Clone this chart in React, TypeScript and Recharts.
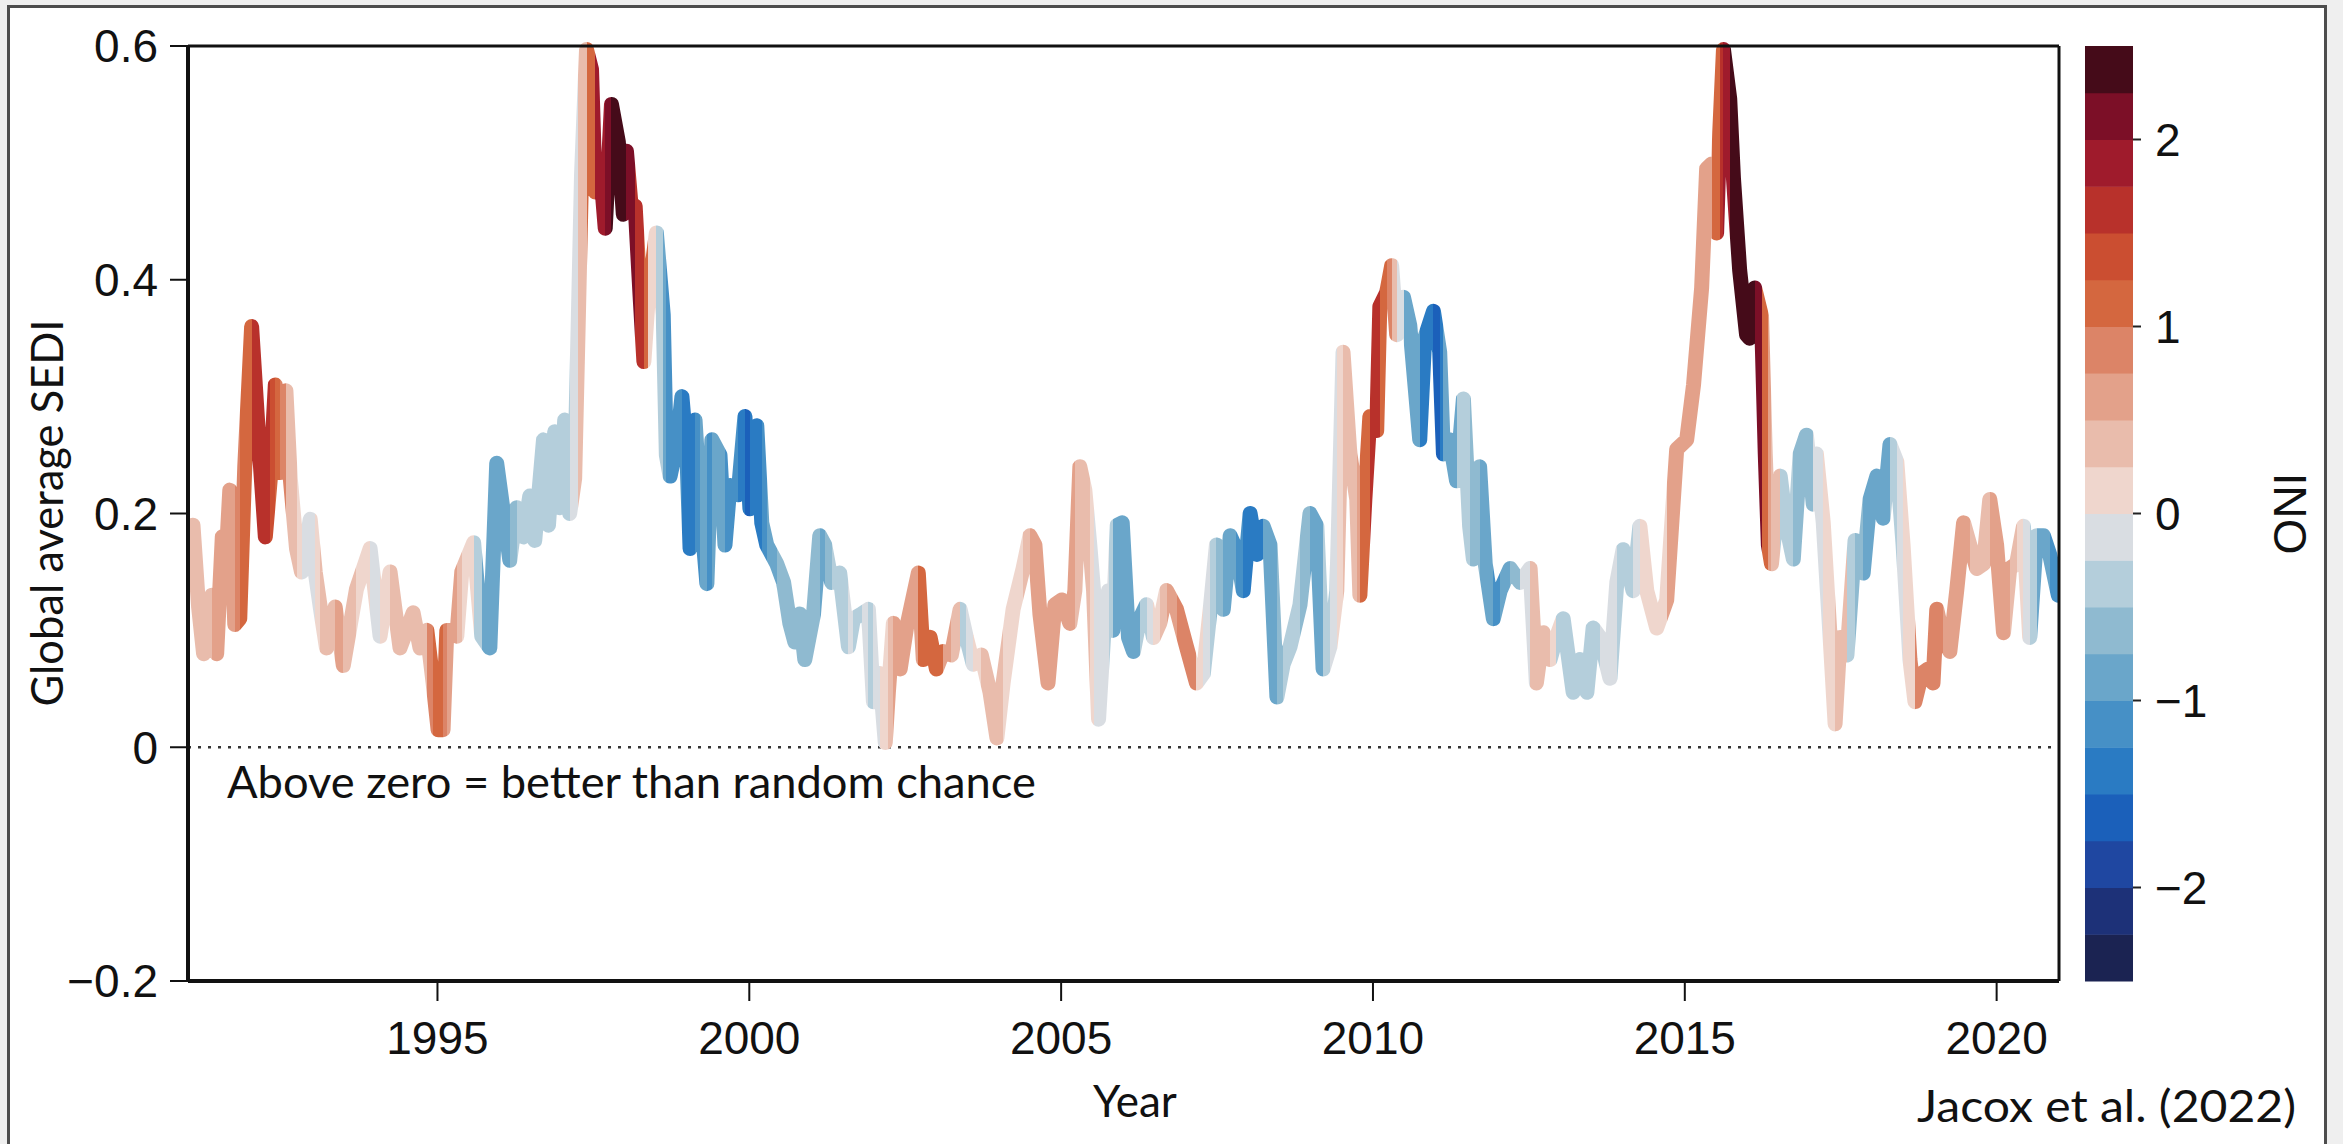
import React from 'react';
import { LineChart, Line, XAxis, YAxis, ReferenceLine } from 'recharts';

// Global average SEDI (decimal year, SEDI, ONI colour)
const years = [
  1991.08, 1991.17, 1991.25, 1991.38, 1991.46, 1991.55, 1991.61, 1991.67, 1991.75, 1991.83, 1991.91,
  1992.02, 1992.15, 1992.24, 1992.32, 1992.4, 1992.48, 1992.57, 1992.64, 1992.74, 1992.82, 1992.96,
  1993.04, 1993.12, 1993.22, 1993.36, 1993.49, 1993.7, 1993.92, 1994.08, 1994.24, 1994.4, 1994.61,
  1994.72, 1994.83, 1994.93, 1995.01, 1995.09, 1995.15, 1995.23, 1995.31, 1995.39, 1995.58, 1995.71,
  1995.84, 1995.95, 1996.16, 1996.27, 1996.38, 1996.48, 1996.56, 1996.7, 1996.78, 1996.88, 1996.96,
  1997.04, 1997.12, 1997.2, 1997.26, 1997.31, 1997.39, 1997.47, 1997.53, 1997.63, 1997.69, 1997.79,
  1997.9, 1997.98, 1998.03, 1998.11, 1998.17, 1998.25, 1998.31, 1998.38, 1998.51, 1998.62, 1998.67,
  1998.73, 1998.84, 1998.92, 1999.0, 1999.05, 1999.13, 1999.21, 1999.32, 1999.4, 1999.53, 1999.61,
  1999.69, 1999.82, 1999.93, 2000.01, 2000.12, 2000.2, 2000.28, 2000.44, 2000.55, 2000.65, 2000.73,
  2000.81, 2000.89, 2001.03, 2001.13, 2001.21, 2001.32, 2001.45, 2001.59, 2001.67, 2001.8, 2001.91,
  2001.99, 2002.09, 2002.18, 2002.23, 2002.31, 2002.42, 2002.52, 2002.71, 2002.79, 2002.9, 2003.0,
  2003.11, 2003.24, 2003.38, 2003.48, 2003.59, 2003.72, 2003.86, 2003.97, 2004.07, 2004.23, 2004.39,
  2004.5, 2004.58, 2004.66, 2004.79, 2004.9, 2005.01, 2005.14, 2005.22, 2005.3, 2005.38, 2005.46,
  2005.52, 2005.6, 2005.68, 2005.76, 2005.83, 2005.9, 2005.98, 2006.08, 2006.16, 2006.26, 2006.37,
  2006.48, 2006.58, 2006.69, 2006.85, 2007.01, 2007.17, 2007.28, 2007.39, 2007.49, 2007.6, 2007.71,
  2007.81, 2007.92, 2008.03, 2008.14, 2008.24, 2008.35, 2008.46, 2008.56, 2008.67, 2008.83, 2008.99,
  2009.1, 2009.2, 2009.31, 2009.42, 2009.52, 2009.63, 2009.74, 2009.79, 2009.87, 2009.95, 2010.06,
  2010.11, 2010.22, 2010.3, 2010.38, 2010.49, 2010.59, 2010.75, 2010.83, 2010.97, 2011.07, 2011.13,
  2011.23, 2011.34, 2011.45, 2011.55, 2011.61, 2011.71, 2011.8, 2011.93, 2012.04, 2012.2, 2012.36,
  2012.52, 2012.62, 2012.73, 2012.84, 2012.94, 2013.05, 2013.21, 2013.32, 2013.43, 2013.53, 2013.64,
  2013.8, 2013.91, 2014.01, 2014.17, 2014.28, 2014.39, 2014.55, 2014.71, 2014.87, 2015.03, 2015.14,
  2015.27, 2015.35, 2015.43, 2015.51, 2015.56, 2015.62, 2015.72, 2015.78, 2015.88, 2015.99, 2016.04,
  2016.12, 2016.23, 2016.29, 2016.34, 2016.39, 2016.53, 2016.63, 2016.74, 2016.85, 2016.95, 2017.06,
  2017.11, 2017.22, 2017.33, 2017.41, 2017.49, 2017.6, 2017.73, 2017.86, 2017.97, 2018.08, 2018.18,
  2018.29, 2018.4, 2018.5, 2018.61, 2018.69, 2018.8, 2018.9, 2018.98, 2019.04, 2019.14, 2019.25,
  2019.36, 2019.47, 2019.57, 2019.68, 2019.79, 2019.89, 2020.0, 2020.11, 2020.21, 2020.32, 2020.43,
  2020.53, 2020.64, 2020.75, 2020.85, 2020.99,
];

const sedi = [
  0.19, 0.12, 0.08, 0.13, 0.08, 0.18, 0.16, 0.22, 0.105, 0.11, 0.24,
  0.36, 0.25, 0.18, 0.23, 0.31, 0.235, 0.305, 0.23, 0.17, 0.15, 0.195,
  0.15, 0.12, 0.085, 0.12, 0.07, 0.135, 0.17, 0.095, 0.15, 0.085, 0.115,
  0.085, 0.1, 0.055, 0.015, 0.015, 0.1, 0.1, 0.095, 0.15, 0.175, 0.095,
  0.085, 0.243, 0.16, 0.205, 0.18, 0.215, 0.177, 0.263, 0.19, 0.27, 0.205,
  0.28, 0.2, 0.23, 0.37, 0.49, 0.597, 0.58, 0.475, 0.483, 0.444, 0.55,
  0.518, 0.456, 0.51, 0.46, 0.463, 0.385, 0.33, 0.385, 0.44, 0.37, 0.25,
  0.232, 0.26, 0.3, 0.25, 0.17, 0.28, 0.21, 0.14, 0.263, 0.25, 0.173,
  0.224, 0.216, 0.283, 0.204, 0.275, 0.192, 0.173, 0.157, 0.141, 0.106, 0.09,
  0.114, 0.075, 0.114, 0.181, 0.173, 0.141, 0.149, 0.086, 0.11, 0.114, 0.118,
  0.039, 0.063, 0.004, 0.047, 0.106, 0.067, 0.102, 0.149, 0.075, 0.094, 0.067,
  0.082, 0.079, 0.118, 0.094, 0.071, 0.079, 0.047, 0.008, 0.055, 0.118, 0.153,
  0.181, 0.173, 0.114, 0.055, 0.122, 0.126, 0.106, 0.134, 0.24, 0.22, 0.173,
  0.134, 0.024, 0.094, 0.134, 0.1, 0.19, 0.192, 0.094, 0.082, 0.11, 0.122,
  0.094, 0.106, 0.134, 0.118, 0.086, 0.055, 0.063, 0.118, 0.173, 0.118, 0.181,
  0.169, 0.134, 0.2, 0.165, 0.189, 0.173, 0.043, 0.071, 0.086, 0.122, 0.2,
  0.189, 0.067, 0.086, 0.134, 0.338, 0.251, 0.212, 0.13, 0.212, 0.283, 0.271,
  0.377, 0.389, 0.412, 0.353, 0.385, 0.361, 0.263, 0.35, 0.373, 0.338, 0.251,
  0.263, 0.228, 0.298, 0.189, 0.161, 0.24, 0.157, 0.11, 0.134, 0.153, 0.141,
  0.153, 0.055, 0.098, 0.075, 0.094, 0.11, 0.047, 0.075, 0.047, 0.102, 0.094,
  0.059, 0.141, 0.169, 0.134, 0.189, 0.134, 0.102, 0.126, 0.255, 0.263, 0.31,
  0.393, 0.495, 0.499, 0.44, 0.526, 0.597, 0.555, 0.487, 0.408, 0.353, 0.35,
  0.393, 0.369, 0.251, 0.173, 0.157, 0.232, 0.189, 0.161, 0.251, 0.267, 0.208,
  0.251, 0.192, 0.094, 0.02, 0.094, 0.079, 0.177, 0.149, 0.212, 0.232, 0.196,
  0.259, 0.244, 0.173, 0.075, 0.039, 0.063, 0.067, 0.055, 0.118, 0.094, 0.082,
  0.134, 0.192, 0.173, 0.153, 0.157, 0.212, 0.173, 0.098, 0.153, 0.157, 0.189,
  0.094, 0.181, 0.181, 0.165, 0.13,
];

const oni = [
  0.4, 0.4, 0.4, 0.5, 0.5, 0.6, 0.6, 0.6, 0.9, 1.0, 1.1,
  1.6, 1.6, 1.5, 1.3, 1.0, 0.9, 0.4, 0.3, 0.0, -0.2, -0.2,
  0.1, 0.4, 0.4, 0.5, 0.4, 0.1, -0.1, 0.1, 0.3, 0.4, 0.4,
  0.4, 0.9, 1.0, 1.0, 0.9, 0.6, 0.5, 0.4, 0.1, -0.4, -0.8,
  -0.8, -0.8, -0.7, -0.5, -0.5, -0.4, -0.4, -0.4, -0.4, -0.3, -0.3,
  -0.3, -0.2, -0.1, 0.3, 0.4, 1.0, 1.1, 1.8, 1.9, 2.2, 2.4,
  2.4, 2.3, 2.2, 2.0, 1.7, 1.6, 1.1, 0.2, -0.3, -0.9, -1.1,
  -1.1, -1.2, -1.5, -1.4, -1.3, -1.2, -1.0, -1.1, -1.0, -1.0, -1.2,
  -1.2, -1.3, -1.6, -1.5, -1.4, -1.2, -0.8, -0.7, -0.6, -0.6, -0.6,
  -0.7, -0.7, -0.7, -0.9, -0.7, -0.3, -0.3, -0.2, -0.3, -0.2, -0.4,
  -0.1, 0.1, 0.2, 0.3, 0.5, 0.6, 0.7, 1.0, 1.1, 1.1, 1.0,
  0.7, 0.3, -0.3, -0.2, 0.1, 0.3, 0.4, 0.3, 0.2, 0.1, 0.3,
  0.6, 0.6, 0.6, 0.6, 0.6, 0.6, 0.5, 0.4, 0.4, 0.3, 0.1,
  -0.1, -0.1, -0.2, -0.3, -0.8, -0.9, -0.9, -0.8, -0.8, -0.5, -0.1,
  0.2, 0.3, 0.6, 0.9, 0.9, 0.1, -0.2, -0.4, -0.6, -0.8, -0.9,
  -1.1, -1.4, -1.5, -1.3, -1.0, -0.8, -0.7, -0.5, -0.3, -0.6, -0.9,
  -0.8, -0.4, -0.2, 0.1, 0.4, 0.4, 0.6, 1.0, 1.1, 1.5, 1.5,
  1.1, 0.8, 0.4, -0.1, -0.8, -1.0, -1.4, -1.5, -1.6, -1.3, -1.0,
  -0.9, -0.5, -0.4, -0.6, -0.7, -0.9, -1.0, -1.1, -0.8, -0.6, -0.1,
  0.3, 0.4, 0.4, 0.2, -0.3, -0.4, -0.4, -0.4, -0.4, -0.4, -0.2,
  -0.1, -0.3, -0.4, -0.2, 0.1, 0.1, 0.2, 0.5, 0.6, 0.6, 0.6,
  0.7, 0.7, 1.1, 1.2, 1.5, 1.8, 2.3, 2.4, 2.4, 2.4, 2.3,
  2.0, 1.2, 1.0, 0.6, 0.4, -0.4, -0.5, -0.7, -0.7, -0.7, -0.2,
  -0.1, 0.1, 0.2, 0.4, 0.3, -0.3, -0.6, -0.9, -1.0, -0.9, -0.8,
  -0.4, -0.2, 0.1, 0.2, 0.9, 0.9, 0.9, 0.9, 0.9, 0.7, 0.6,
  0.6, 0.5, 0.4, 0.3, 0.3, 0.6, 0.6, 0.5, 0.4, 0.1, -0.2,
  -0.4, -0.8, -1.0, -1.1, -1.1,
];

const yearTicks = [1995, 2000, 2005, 2010, 2015, 2020];
const sediTicks = [-0.2, 0, 0.2, 0.4, 0.6];
const oniTicks = [2, 1, 0, -1, -2];

// colour bins of the ONI scale, from -2.5 upwards in steps of 0.25
const oniBreaks = [
  -2.5, -2.25, -2, -1.75, -1.5, -1.25, -1, -0.75, -0.5, -0.25, 0,
  0.25, 0.5, 0.75, 1, 1.25, 1.5, 1.75, 2, 2.25, 2.5,
];
const oniColors = [
  '#1b2352', '#1d3178', '#1f47a1', '#1b60ba', '#2a7bc3', '#4690c6', '#6aa6ca', '#8fbad0', '#b4cedb', '#d9dde2',
  '#efd6cd', '#e9bcac', '#e3a18a', '#dc8467', '#d4673f', '#cb4e31', '#b8312b', '#9f1b2c', '#7c0f27', '#450b19',
];

const W = 2343;
const H = 1144;
const PLOT = { left: 188, right: 2059, top: 46, bottom: 981 };

const tickFont = '"Liberation Sans", Arial, Helvetica, sans-serif';
const textFont = 'Lato, "Open Sans", sans-serif';

const oniColor = (v: number) => {
  let i = Math.floor((v - oniBreaks[0]) / 0.25);
  if (i < 0) i = 0;
  if (i > oniColors.length - 1) i = oniColors.length - 1;
  return oniColors[i];
};

const data = years.map((year, i) => ({ year, sedi: sedi[i], oni: oni[i] }));

// each segment takes the colour of the point it starts from
const first = years[0];
const span = years[years.length - 1] - first;
const stops: { offset: number; color: string }[] = [];
for (let i = 0; i < years.length - 1; i++) {
  const c = oniColor(oni[i]);
  stops.push({ offset: (years[i] - first) / span, color: c });
  stops.push({ offset: (years[i + 1] - first) / span, color: c });
}

const fmtSedi = (v: number) => (v === 0 ? '0' : v < 0 ? '\u2212' + Math.abs(v).toFixed(1) : v.toFixed(1));
const fmtOni = (v: number) => (v < 0 ? '\u2212' + Math.abs(v) : String(v));

const ColorBar = () => {
  const x0 = 2085;
  const w = 48;
  const lo = oniBreaks[0];
  const hi = oniBreaks[oniBreaks.length - 1];
  const yOf = (v: number) => PLOT.top + ((hi - v) / (hi - lo)) * (PLOT.bottom - PLOT.top);
  return (
    <g>
      {oniColors.map((c, i) => (
        <rect
          key={i}
          x={x0}
          y={yOf(oniBreaks[i + 1])}
          width={w}
          height={yOf(oniBreaks[i]) - yOf(oniBreaks[i + 1]) + 0.5}
          fill={c}
        />
      ))}
      {oniTicks.map((t) => (
        <g key={t}>
          <line x1={x0 + w} x2={x0 + w + 8} y1={yOf(t)} y2={yOf(t)} stroke="#222" strokeWidth={2} />
          <text x={x0 + w + 22} y={yOf(t)} dy="0.36em" fontSize={46} fontFamily={tickFont} fill="#111">
            {fmtOni(t)}
          </text>
        </g>
      ))}
      <text
        x={2306}
        y={(PLOT.top + PLOT.bottom) / 2}
        transform={`rotate(-90 2306 ${(PLOT.top + PLOT.bottom) / 2})`}
        textAnchor="middle"
        fontSize={46}
        fontFamily={tickFont}
        fill="#111"
      >
        ONI
      </text>
    </g>
  );
};

const App: React.FC = () => {
  return (
    <div style={{ position: 'absolute', left: 0, top: 0, width: W, height: H, background: '#efefef', overflow: 'hidden' }}>
      <div
        style={{
          position: 'absolute',
          left: 7,
          top: 5,
          width: 2320,
          height: 1200,
          border: '3px solid #4d4d4d',
          background: '#ffffff',
          boxSizing: 'border-box',
        }}
      />
      <div style={{ position: 'absolute', left: 0, top: 0 }}>
        <LineChart
          width={W}
          height={H}
          data={data}
          margin={{ top: PLOT.top - 20, right: W - PLOT.right - 20, bottom: H - PLOT.bottom - 90, left: PLOT.left - 120 }}
        >
          <defs>
            <linearGradient id="oniStroke" x1="0" y1="0" x2="1" y2="0">
              {stops.map((s, i) => (
                <stop key={i} offset={s.offset} stopColor={s.color} />
              ))}
            </linearGradient>
          </defs>
          <XAxis
            xAxisId="b"
            dataKey="year"
            type="number"
            domain={[1991, 2021]}
            ticks={yearTicks}
            interval={0}
            allowDataOverflow
            height={90}
            tickSize={20}
            tickMargin={20}
            axisLine={{ stroke: '#111', strokeWidth: 4 }}
            tickLine={{ stroke: '#111', strokeWidth: 2 }}
            tick={{ fill: '#111', fontSize: 46, fontFamily: tickFont }}
          />
          <XAxis
            xAxisId="t"
            orientation="top"
            dataKey="year"
            type="number"
            domain={[1991, 2021]}
            ticks={yearTicks}
            interval={0}
            allowDataOverflow
            height={20}
            tickSize={17}
            axisLine={{ stroke: '#111', strokeWidth: 3 }}
            tickLine={{ stroke: '#111', strokeWidth: 2 }}
            tick={false}
          />
          <YAxis
            yAxisId="l"
            type="number"
            domain={[-0.2, 0.6]}
            ticks={sediTicks}
            interval={0}
            width={120}
            tickSize={18}
            tickMargin={12}
            tickFormatter={fmtSedi}
            axisLine={{ stroke: '#111', strokeWidth: 4 }}
            tickLine={{ stroke: '#111', strokeWidth: 2 }}
            tick={{ fill: '#111', fontSize: 46, fontFamily: tickFont }}
          />
          <YAxis
            yAxisId="r"
            orientation="right"
            type="number"
            domain={[-0.2, 0.6]}
            ticks={sediTicks}
            interval={0}
            width={20}
            tickSize={22}
            axisLine={{ stroke: '#111', strokeWidth: 3 }}
            tickLine={{ stroke: '#111', strokeWidth: 2 }}
            tick={false}
          />
          <ReferenceLine xAxisId="b" yAxisId="l" y={0} stroke="#333" strokeWidth={2.5} strokeDasharray="3 7" />
          <Line
            xAxisId="b"
            yAxisId="l"
            type="linear"
            dataKey="sedi"
            stroke="url(#oniStroke)"
            strokeWidth={15}
            strokeLinecap="round"
            strokeLinejoin="round"
            dot={false}
            activeDot={false}
            isAnimationActive={false}
          />
        </LineChart>
      </div>
      <svg width={W} height={H} style={{ position: 'absolute', left: 0, top: 0, pointerEvents: 'none' }}>
        <ColorBar />
        <text
          x={63}
          y={513}
          transform="rotate(-90 63 513)"
          textAnchor="middle"
          fontSize={44}
          fontFamily={textFont}
          fill="#111"
          textLength={387}
          lengthAdjust="spacingAndGlyphs"
        >
          Global average SEDI
        </text>
        <text
          x={227}
          y={798}
          fontSize={44}
          fontFamily={textFont}
          fill="#111"
          textLength={809}
          lengthAdjust="spacingAndGlyphs"
        >
          Above zero = better than random chance
        </text>
        <text x={1135} y={1117} textAnchor="middle" fontSize={44} fontFamily={textFont} fill="#111">
          Year
        </text>
        <text
          x={1917}
          y={1122}
          fontSize={44}
          fontFamily={textFont}
          fill="#111"
          textLength={379}
          lengthAdjust="spacingAndGlyphs"
        >
          Jacox et al. (2022)
        </text>
      </svg>
    </div>
  );
};

export default App;
